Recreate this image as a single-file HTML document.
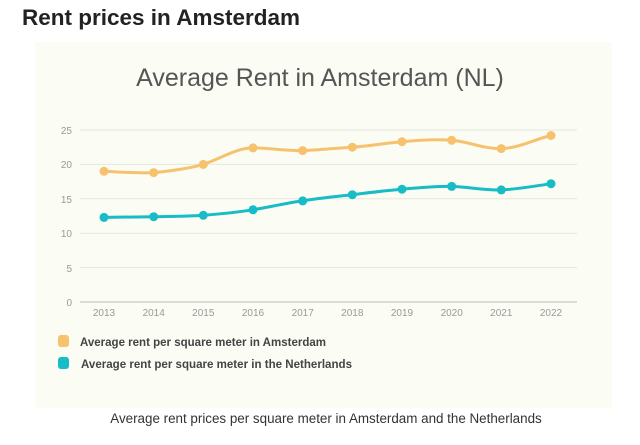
<!DOCTYPE html>
<html><head><meta charset="utf-8"><style>
body{margin:0;width:640px;height:445px;background:#fff;font-family:"Liberation Sans",sans-serif;position:relative;overflow:hidden}
.h{position:absolute;left:22px;top:5px;font-size:22.5px;font-weight:bold;color:#222}
.cap{position:absolute;left:0;width:652px;top:411px;text-align:center;font-size:13.4px;color:#333}
</style></head><body>
<div class="h">Rent prices in Amsterdam</div>
<svg style="position:absolute;left:0;top:0" width="640" height="445">
<rect x="35" y="42" width="577" height="366" fill="#fbfcf4"/>
<text x="320" y="86" text-anchor="middle" font-size="25" fill="#555" font-family="Liberation Sans">Average Rent in Amsterdam (NL)</text>
<g stroke="#e6e8e0" stroke-width="1">
<line x1="80" x2="577" y1="130" y2="130"/><line x1="80" x2="577" y1="164.4" y2="164.4"/>
<line x1="80" x2="577" y1="198.8" y2="198.8"/><line x1="80" x2="577" y1="233.2" y2="233.2"/>
<line x1="80" x2="577" y1="267.6" y2="267.6"/></g>
<line x1="80" x2="577" y1="302" y2="302" stroke="#bbb"/>
<g font-size="10" fill="#999" text-anchor="end" font-family="Liberation Sans">
<text x="72" y="134">25</text><text x="72" y="168">20</text><text x="72" y="203">15</text>
<text x="72" y="237">10</text><text x="72" y="272">5</text><text x="72" y="306">0</text></g>
<g font-size="10" fill="#999" text-anchor="middle" font-family="Liberation Sans">
<text x="104" y="316">2013</text><text x="153.7" y="316">2014</text><text x="203.3" y="316">2015</text>
<text x="253" y="316">2016</text><text x="302.7" y="316">2017</text><text x="352.3" y="316">2018</text>
<text x="402" y="316">2019</text><text x="451.7" y="316">2020</text><text x="501.3" y="316">2021</text>
<text x="551" y="316">2022</text></g>
<path d="M104,171.3 C120,172 138,173.5 153.7,172.6 C170,171 187,169 203.3,164.4 C220,159 236,148 253,147.9 C270,148 286,151 302.7,150.6 C320,150 336,148 352.3,147.2 C370,146 386,143 402,141.7 C420,140 436,139 451.7,140.3 C470,142 484,149 501.3,148.6 C520,148 535,139 551,135.5" fill="none" stroke="#f7c26e" stroke-width="3"/>
<path d="M104,217.4 L153.7,216.7 C170,216.5 187,216.5 203.3,215.3 C220,214 236,212.5 253,209.8 C270,207 286,203 302.7,200.9 C320,198 336,196.5 352.3,194.7 C370,192.5 386,190.5 402,189.2 C420,187.5 436,186 451.7,186.4 C470,187 484,190.5 501.3,189.9 C520,189 535,186 551,183.7" fill="none" stroke="#17bcc6" stroke-width="3"/>
<g fill="#f7c26e"><circle cx="104" cy="171.3" r="4.5"/><circle cx="153.7" cy="172.6" r="4.5"/><circle cx="203.3" cy="164.4" r="4.5"/><circle cx="253" cy="147.9" r="4.5"/><circle cx="302.7" cy="150.6" r="4.5"/><circle cx="352.3" cy="147.2" r="4.5"/><circle cx="402" cy="141.7" r="4.5"/><circle cx="451.7" cy="140.3" r="4.5"/><circle cx="501.3" cy="148.6" r="4.5"/><circle cx="551" cy="135.5" r="4.5"/></g>
<g fill="#17bcc6"><circle cx="104" cy="217.4" r="4.5"/><circle cx="153.7" cy="216.7" r="4.5"/><circle cx="203.3" cy="215.3" r="4.5"/><circle cx="253" cy="209.8" r="4.5"/><circle cx="302.7" cy="200.9" r="4.5"/><circle cx="352.3" cy="194.7" r="4.5"/><circle cx="402" cy="189.2" r="4.5"/><circle cx="451.7" cy="186.4" r="4.5"/><circle cx="501.3" cy="189.9" r="4.5"/><circle cx="551" cy="183.7" r="4.5"/></g>
<rect x="58" y="335" width="11" height="12" rx="3" fill="#f7c26e"/>
<rect x="58" y="357" width="11" height="12" rx="3" fill="#17bcc6"/>
<g font-size="12" fill="#444" font-family="Liberation Sans" font-weight="bold">
<text x="80" y="346" textLength="246" lengthAdjust="spacingAndGlyphs">Average rent per square meter in Amsterdam</text>
<text x="81" y="368" textLength="271" lengthAdjust="spacingAndGlyphs">Average rent per square meter in the Netherlands</text></g>
</svg>
<div class="cap">Average rent prices per square meter in Amsterdam and the Netherlands</div>
</body></html>
